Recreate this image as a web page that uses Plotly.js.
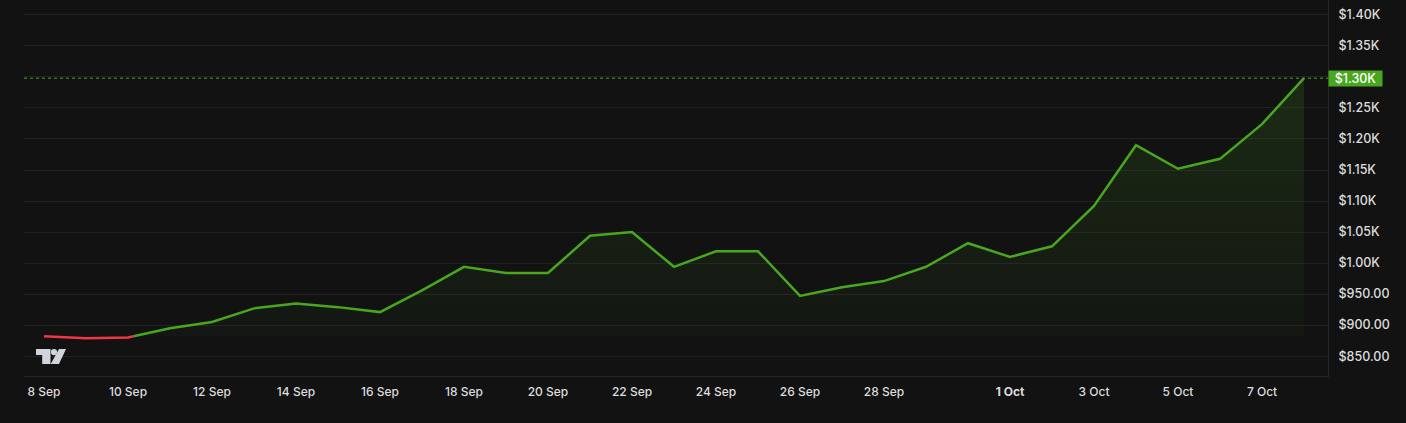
<!DOCTYPE html>
<html>
<head>
<meta charset="utf-8">
<script src="https://cdn.plot.ly/plotly-3.0.1.min.js"></script>
<style>
html,body{margin:0;padding:0;background:#121212;overflow:hidden;}
#chart{width:1406px;height:423px;}
</style>
</head>
<body>
<div id="chart"></div>
<script>
// ---- data ----
const dates = [
  '2024-09-08','2024-09-09','2024-09-10','2024-09-11','2024-09-12','2024-09-13','2024-09-14',
  '2024-09-15','2024-09-16','2024-09-17','2024-09-18','2024-09-19','2024-09-20','2024-09-21',
  '2024-09-22','2024-09-23','2024-09-24','2024-09-25','2024-09-26','2024-09-27','2024-09-28',
  '2024-09-29','2024-09-30','2024-10-01','2024-10-02','2024-10-03','2024-10-04','2024-10-05',
  '2024-10-06','2024-10-07','2024-10-08'
];
const prices = [
  882, 879, 880, 895, 905, 927, 935,
  929, 921, 956, 994, 984, 984, 1044,
  1050, 994, 1019, 1019, 947, 961, 971,
  994, 1032, 1010, 1027, 1092, 1190, 1152,
  1168, 1224, 1298
];
const xTickDates = ['2024-09-08','2024-09-10','2024-09-12','2024-09-14','2024-09-16','2024-09-18',
  '2024-09-20','2024-09-22','2024-09-24','2024-09-26','2024-09-28','2024-10-01','2024-10-03',
  '2024-10-05','2024-10-07'];
const xTickLabels = ['8 Sep','10 Sep','12 Sep','14 Sep','16 Sep','18 Sep','20 Sep','22 Sep',
  '24 Sep','26 Sep','28 Sep','<b>1 Oct</b>','3 Oct','5 Oct','7 Oct'];
const yTickVals = [850,900,950,1000,1050,1100,1150,1200,1250,1300,1350,1400];
const yTickLabels = ['$850.00','$900.00','$950.00','$1.00K','$1.05K','$1.10K','$1.15K',
  '$1.20K','$1.25K','$1.30K','$1.35K','$1.40K'];

// ---- styling ----
const GREEN = '#49a71f';
const RED = '#f23645';
const BG = '#121212';
const TXT = '#dcdcdc';

const toMs = s => { const [y,m,d] = s.split('-').map(Number); return Date.UTC(y, m-1, d); };
const xs = dates.map(toMs);
const base = prices[0];
const last = prices[prices.length - 1];
const lastLabel = '$' + (last / 1000).toFixed(2) + 'K';

// Build split series with crossings at baseline
const gx = [], gy = [], rx = [], ry = [], fx = [], fy = [];
for (let i = 0; i < xs.length; i++) {
  const v = prices[i];
  if (i > 0) {
    const pv = prices[i-1];
    if ((pv - base) * (v - base) < 0) {
      const t = (base - pv) / (v - pv);
      const cx = xs[i-1] + t * (xs[i] - xs[i-1]);
      gx.push(cx); gy.push(base);
      rx.push(cx); ry.push(base);
      fx.push(cx); fy.push(base);
    }
  }
  gx.push(xs[i]); gy.push(v >= base ? v : null);
  rx.push(xs[i]); ry.push(v <= base ? v : null);
  fx.push(xs[i]); fy.push(Math.max(v, base));
}

const traces = [
  {x: fx, y: fx.map(() => base), mode: 'lines', line: {width: 0, color: 'rgba(0,0,0,0)'},
   hoverinfo: 'skip', showlegend: false},
  {x: fx, y: fy, mode: 'lines', fill: 'tonexty', line: {width: 0, color: 'rgba(0,0,0,0)'},
   fillcolor: 'rgba(73,167,31,0.1)',
   fillgradient: {type: 'vertical', colorscale: [[0, 'rgba(73,167,31,0.03)'], [1, 'rgba(73,167,31,0.17)']]},
   hoverinfo: 'skip', showlegend: false},
  {x: rx, y: ry, mode: 'lines', line: {width: 2.5, color: RED}, hoverinfo: 'skip', showlegend: false},
  {x: gx, y: gy, mode: 'lines', line: {width: 2.5, color: GREEN}, hoverinfo: 'skip', showlegend: false}
];

// the last-price badge replaces the axis label at the same level
const yTickText = yTickVals.map((v, i) => (yTickLabels[i] === lastLabel ? '' : yTickLabels[i]));

const logoSvg = "<svg xmlns='http://www.w3.org/2000/svg' width='32' height='17' viewBox='0 0 32 17'>" +
  "<path d='M0.5 0.5h14.5v15h-8.3v-9h-6.2z' fill='%23d1d4dc'/>" +
  "<circle cx='18.5' cy='3.6' r='3.1' fill='%23d1d4dc'/>" +
  "<path d='M23.5 0.5h7l-7 15h-8.3z' fill='%23d1d4dc'/></svg>";

const layout = {
  width: 1406, height: 423,
  paper_bgcolor: BG, plot_bgcolor: BG,
  margin: {l: 24, r: 78, t: 0, b: 47},
  showlegend: false,
  hovermode: false,
  font: {family: 'Inter, "Open Sans", sans-serif', color: TXT, size: 12, weight: 500},
  xaxis: {
    type: 'date',
    range: ['2024-09-07 12:34', '2024-10-08 13:43'],
    showgrid: false, zeroline: false,
    showline: true, linecolor: '#262626', linewidth: 1,
    tickmode: 'array', tickvals: xTickDates, ticktext: xTickLabels,
    ticks: '', ticklabelstandoff: 5,
    tickfont: {size: 12, color: TXT, weight: 500}
  },
  yaxis: {
    side: 'right',
    range: [818, 1424],
    showgrid: true, gridcolor: '#212121', gridwidth: 1,
    zeroline: false,
    showline: true, linecolor: '#262626', linewidth: 1,
    tickmode: 'array', tickvals: yTickVals, ticktext: yTickText,
    ticks: '', ticklabelstandoff: 7,
    tickfont: {size: 12.5, color: TXT, weight: 500}
  },
  shapes: [
    {type: 'line', xref: 'paper', yref: 'y', x0: 0, x1: 1, y0: last, y1: last,
     line: {color: GREEN, width: 1, dash: 'dot'}, layer: 'below'}
  ],
  annotations: [
    {xref: 'paper', yref: 'y', x: 1, y: last, xanchor: 'left', yanchor: 'middle',
     text: lastLabel, showarrow: false, bgcolor: GREEN,
     font: {color: '#ffffff', size: 12.5, weight: 500},
     width: 51, height: 13, borderpad: 1, align: 'center'}
  ],
  images: [
    {source: 'data:image/svg+xml;utf8,' + logoSvg, xref: 'paper', yref: 'paper',
     x: (35.5 - 24) / 1304, y: (376 - 348.5) / 376, sizex: 32 / 1304, sizey: 17 / 376,
     xanchor: 'left', yanchor: 'top', sizing: 'stretch', layer: 'above'}
  ]
};

Plotly.newPlot('chart', traces, layout, {displayModeBar: false, staticPlot: true});
</script>
</body>
</html>
